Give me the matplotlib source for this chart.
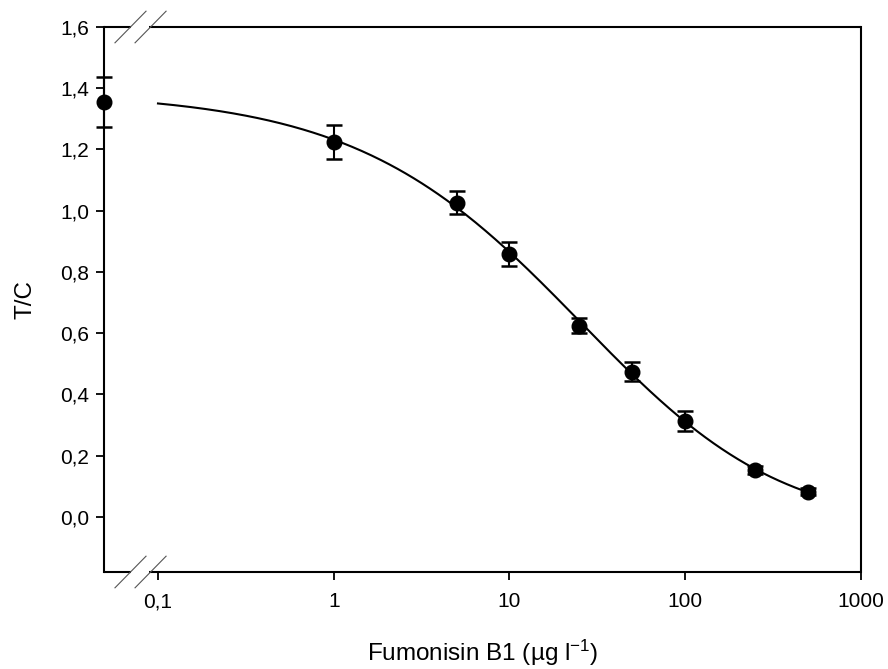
import numpy as np
import matplotlib
matplotlib.use("Agg")
import matplotlib.pyplot as plt
from matplotlib.ticker import FixedLocator, FixedFormatter

plt.rcParams['font.family'] = ['Liberation Sans', 'DejaVu Sans']
plt.rcParams['mathtext.fontset'] = 'custom'
plt.rcParams['mathtext.rm'] = 'Liberation Sans'
plt.rcParams['mathtext.it'] = 'Liberation Sans'

# ---- data ----
conc = [1, 5, 10, 25, 50, 100, 250, 500]
tc = [1.224, 1.026, 0.859, 0.625, 0.474, 0.313, 0.153, 0.082]
tc_err = [0.055, 0.037, 0.040, 0.023, 0.031, 0.033, 0.012, 0.012]
blank_conc = 0.0
blank_tc = 1.356
blank_err = 0.082

# fitted curve: starts at 0.1 with T/C ~1.351
curve_range = (0.1, 500)
curve_start_tc = 1.351

xticks = [0.1, 1, 10, 100, 1000]
xticklabels = ["0,1", "1", "10", "100", "1000"]
yticks = [0.0, 0.2, 0.4, 0.6, 0.8, 1.0, 1.2, 1.4, 1.6]
yticklabels = ["0,0", "0,2", "0,4", "0,6", "0,8", "1,0", "1,2", "1,4", "1,6"]
xlim = (0.0493, 1000)
ylim = (-0.18, 1.6)

# ---- 5-parameter logistic fit (A, D linear; grid over B, C, E) ----
xs_all = np.array([curve_range[0]] + conc, dtype=float)
ys_all = np.array([curve_start_tc] + tc, dtype=float)
wts = np.array([4.0] + [1.0] * len(conc))
Bs = np.linspace(0.4, 2.5, 43)
logCs = np.linspace(0.0, 2.5, 126)
Es = np.linspace(0.2, 2.0, 37)
BB, CC, EE = np.meshgrid(Bs, 10 ** logCs, Es, indexing='ij')
BB, CC, EE = BB.ravel(), CC.ravel(), EE.ravel()
G = 1.0 / (1.0 + (xs_all[None, :] / CC[:, None]) ** BB[:, None]) ** EE[:, None]
g, h = G, 1 - G
w = wts[None, :]
Sgg = (w * g * g).sum(1); Shh = (w * h * h).sum(1); Sgh = (w * g * h).sum(1)
Sgy = (w * g * ys_all).sum(1); Shy = (w * h * ys_all).sum(1)
det = Sgg * Shh - Sgh ** 2
Aa = (Sgy * Shh - Shy * Sgh) / det
Dd = (Shy * Sgg - Sgy * Sgh) / det
res = (w * (Aa[:, None] * g + Dd[:, None] * h - ys_all) ** 2).sum(1)
k = np.nanargmin(res)
A, D, B, C, E = Aa[k], Dd[k], BB[k], CC[k], EE[k]

xc = np.logspace(np.log10(curve_range[0]), np.log10(curve_range[1]), 400)
yc = D + (A - D) / (1 + (xc / C) ** B) ** E

# ---- figure ----
W, H = 888, 669
fig = plt.figure(figsize=(W / 100, H / 100), dpi=100)
L, R, T, Bm = 104, 861, 27, 572
ax = fig.add_axes([L / W, (H - Bm) / H, (R - L) / W, (Bm - T) / H])
ax.set_xscale('log')
ax.set_xlim(*xlim)
ax.set_ylim(*ylim)

ax.plot(xc, yc, color='black', lw=1.5, zorder=2)
ax.errorbar(conc, tc, yerr=tc_err, fmt='o', color='black', ms=10.5,
            capsize=6, elinewidth=1.5, capthick=1.8, zorder=3)
ax.errorbar([xlim[0]], [blank_tc], yerr=[blank_err], fmt='o', color='black',
            ms=10.5, capsize=6, elinewidth=1.5, capthick=1.8, zorder=3,
            clip_on=False)

# ticks
ax.xaxis.set_major_locator(FixedLocator(xticks))
ax.xaxis.set_major_formatter(FixedFormatter(xticklabels))
ax.xaxis.set_minor_locator(FixedLocator([]))
ax.yaxis.set_major_locator(FixedLocator(yticks))
ax.yaxis.set_major_formatter(FixedFormatter(yticklabels))
ax.tick_params(axis='both', direction='out', length=5.5, width=1.3,
               labelsize=15, top=False, right=False)
ax.tick_params(axis='x', pad=9)
ax.tick_params(axis='y', pad=5)
# hide the tick mark at 0.1
for t in ax.xaxis.get_major_ticks():
    if abs(t.get_loc() - 0.1) < 1e-9:
        t.tick1line.set_visible(False)

# spines with axis break
for s in ['left', 'right']:
    ax.spines[s].set_linewidth(1.5)
for s in ['top', 'bottom']:
    ax.spines[s].set_visible(False)
g0, g1 = 0.036, 0.060
for yy in (0.0, 1.0):
    ax.plot([0, g0], [yy, yy], transform=ax.transAxes, color='black',
            lw=1.5, clip_on=False, solid_capstyle='butt')
    ax.plot([g1, 1], [yy, yy], transform=ax.transAxes, color='black',
            lw=1.5, clip_on=False, solid_capstyle='butt')
    for x0, x1 in ((0.0145, 0.0555), (0.041, 0.082)):
        ax.plot([x0, x1], [yy - 0.029, yy + 0.029], transform=ax.transAxes,
                color='#555555', lw=0.8, clip_on=False)

ax.set_xlabel("Fumonisin B1 (µg l$^{-1}$)", fontsize=17.5, labelpad=19)
ax.set_ylabel("T/C", fontsize=17.5, labelpad=17)

fig.savefig("out.png", dpi=100)
